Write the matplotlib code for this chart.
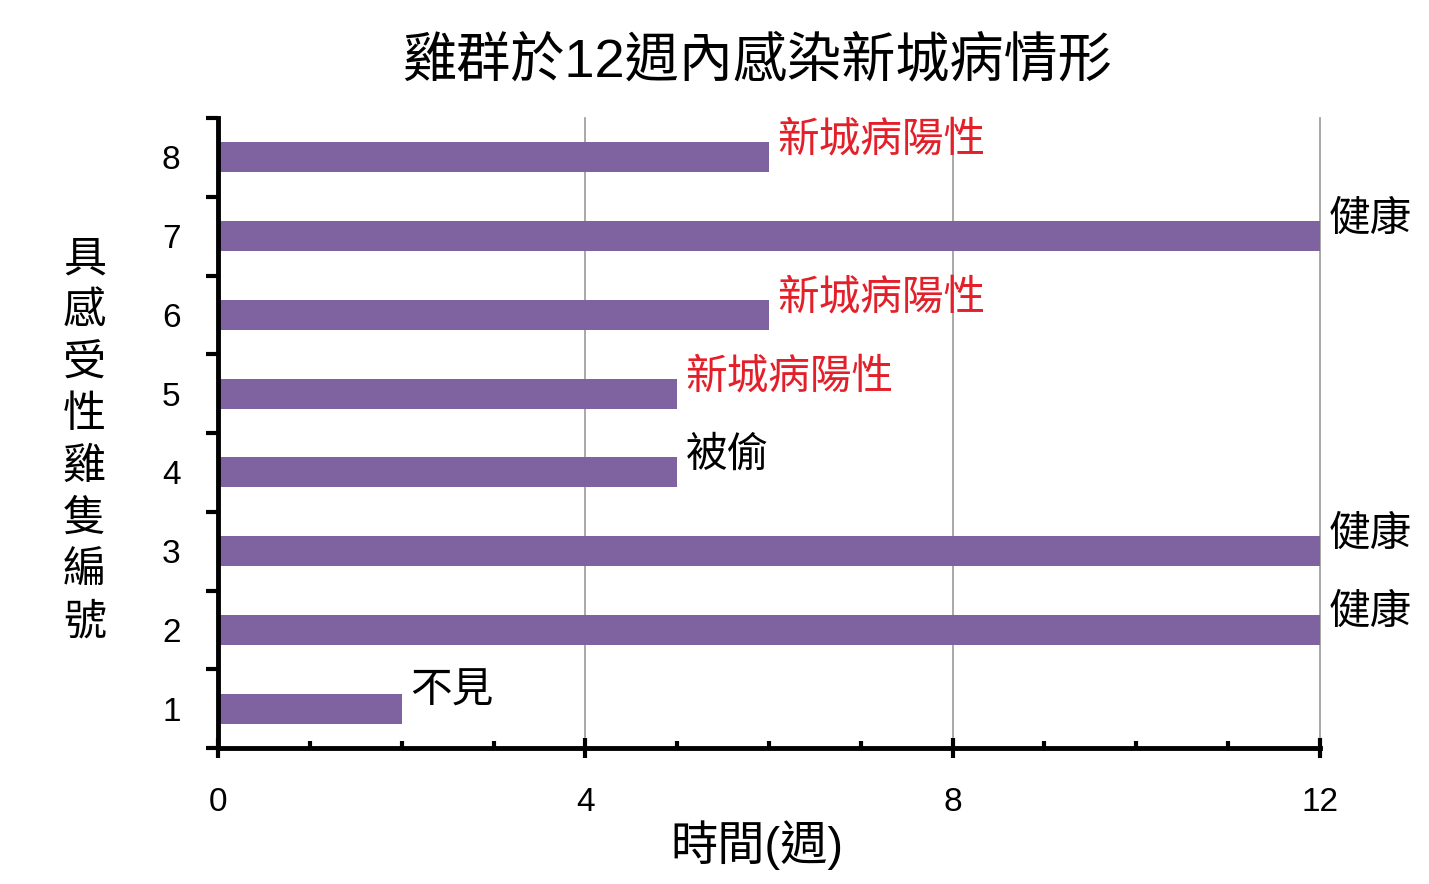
import matplotlib
matplotlib.use('Agg')
from matplotlib import pyplot as plt
import numpy as np

plt.rcParams['font.family'] = ['Liberation Sans', 'Noto Sans CJK TC']

# data
chicken_ids = [1, 2, 3, 4, 5, 6, 7, 8]
weeks = [2, 12, 12, 5, 5, 6, 12, 6]
status = ['不見', '健康', '健康', '被偷', '新城病陽性', '新城病陽性', '健康', '新城病陽性']
x_ticks = [0, 4, 8, 12]

bar_color = '#7F63A1'
red = '#E3202A'

fig = plt.figure(figsize=(14.29, 8.84), dpi=100)
ax = fig.add_axes([0.1526, 0.1538, 0.7711, 0.7127])

ax.barh(chicken_ids, weeks, height=0.38, color=bar_color, zorder=3)

for y, w, s in zip(chicken_ids, weeks, status):
    c = red if s == '新城病陽性' else 'black'
    ax.annotate(s, xy=(w, y), xytext=(6, 12), textcoords='offset points',
                ha='left', va='center', fontsize=30, color=c, zorder=4)

ax.set_xlim(0, 12)
ax.set_ylim(0.5, 8.5)

# x axis
ax.set_xticks(x_ticks)
ax.set_xticks(np.arange(0, 13, 1), minor=True)
ax.tick_params(axis='x', which='major', direction='inout', length=14, width=3,
               labelsize=24, pad=21)
ax.tick_params(axis='x', which='minor', direction='in', length=5, width=3)
ax.grid(axis='x', which='major', color='#9a9a9a', linewidth=1.2, zorder=0)
for gl in ax.get_xgridlines():
    gl.set_clip_on(False)

# y axis: ticks between bars, labels at bar centres
ax.set_yticks(np.arange(0.5, 9, 1))
ax.set_yticklabels([])
ax.set_yticks(chicken_ids, minor=True)
ax.set_yticklabels([str(i) for i in chicken_ids], minor=True)
ax.tick_params(axis='y', which='major', direction='out', length=9, width=3)
ax.tick_params(axis='y', which='minor', length=0, labelsize=24, pad=27)

for side in ['top', 'right']:
    ax.spines[side].set_visible(False)
for side in ['left', 'bottom']:
    ax.spines[side].set_linewidth(3.5)
    ax.spines[side].set_zorder(5)

fig.text(0.53, 0.93, '雞群於12週內感染新城病情形', ha='center', va='center', fontsize=39)
fig.text(0.53, 0.044, '時間(週)', ha='center', va='center', fontsize=34)
fig.text(0.059, 0.50, '\n'.join('具感受性雞隻編號'), ha='center', va='center',
         fontsize=31, linespacing=1.38)

plt.savefig('out.png', dpi=100)
